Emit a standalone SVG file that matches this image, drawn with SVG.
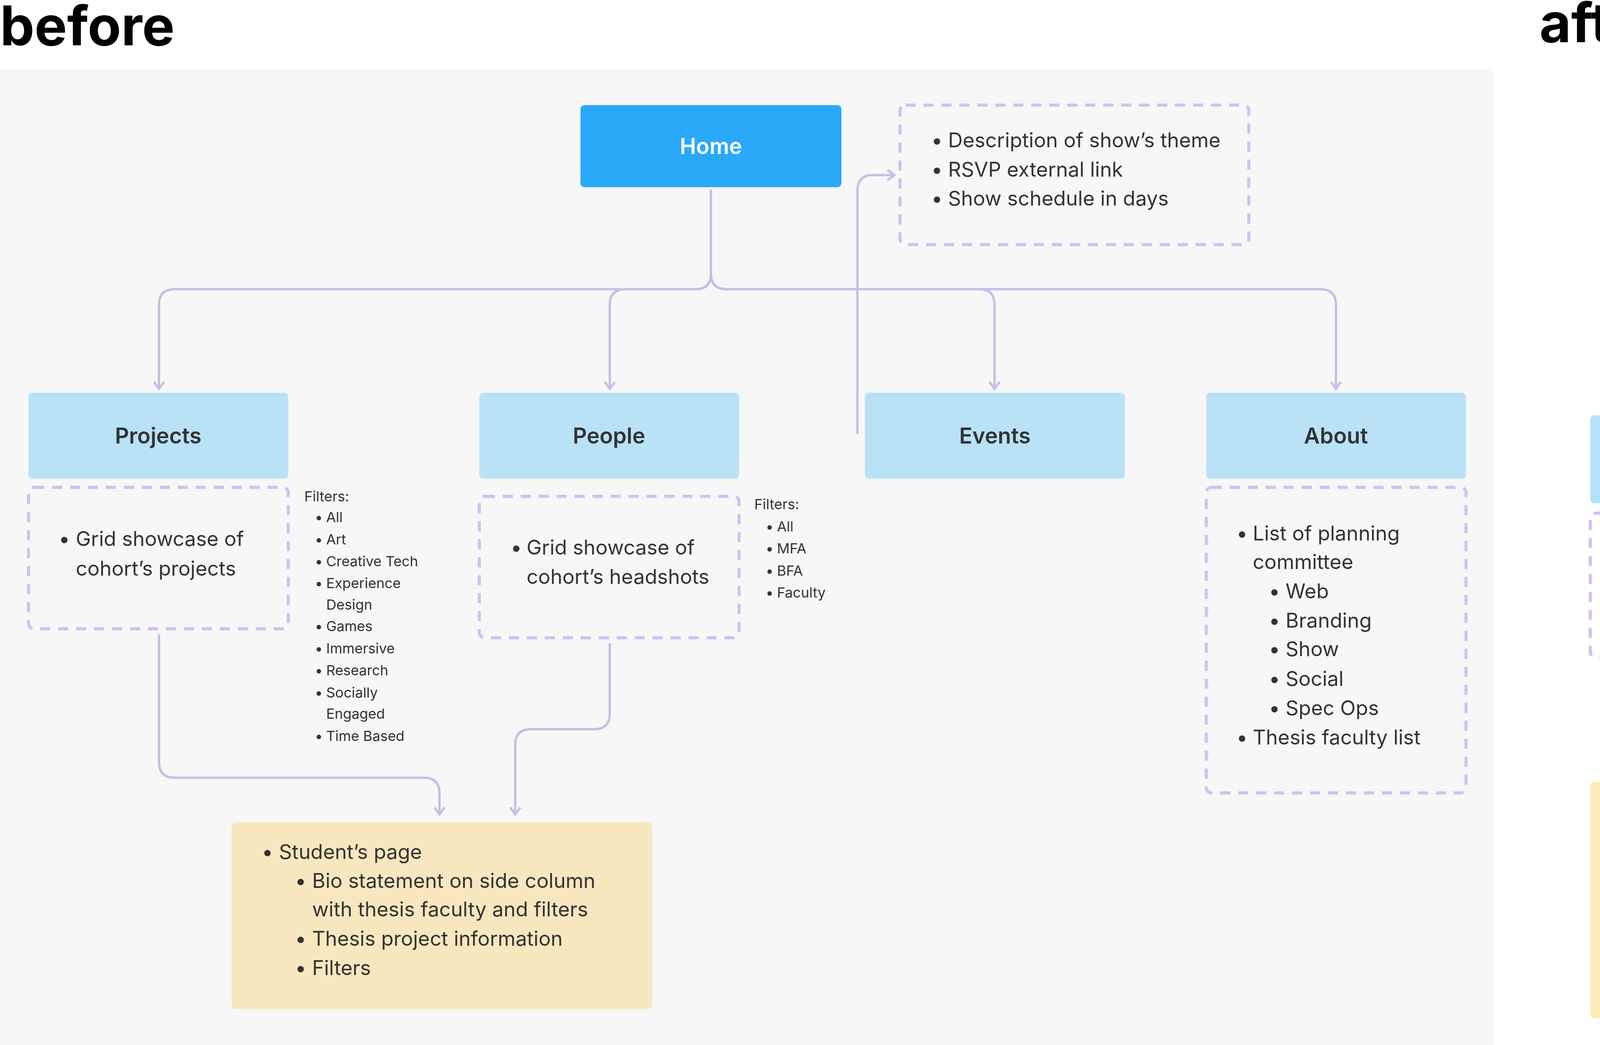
<svg xmlns="http://www.w3.org/2000/svg" width="7198" height="2674" viewBox="0 0 7198 2674">
<style>
.t{font-family:Inter,"Liberation Sans",sans-serif;fill:#333;font-size:52px}
.s{font-family:Inter,"Liberation Sans",sans-serif;fill:#333;font-size:36px}
.h{font-family:Inter,"Liberation Sans",sans-serif;font-size:140px;font-weight:700;fill:#000}
.n{font-family:Inter,"Liberation Sans",sans-serif;font-size:56px;font-weight:600;fill:#333;text-anchor:middle}
.w{fill:#fff}
.d{fill:none;stroke:#cbc3f5;stroke-width:8;stroke-dasharray:26 20}
.c{fill:none;stroke:#c3c0e6;stroke-width:6}
</style>
<defs>
<marker id="a" viewBox="-24 -20 30 40" markerWidth="30" markerHeight="40" markerUnits="userSpaceOnUse" refX="0" refY="0" orient="auto">
<path d="M-18,-13 L0,0 L-18,13" fill="none" stroke="#c3c0e6" stroke-width="6"/>
</marker>
</defs>
<rect x="0" y="177" width="3824" height="2497" fill="#f7f7f7"/>
<text class="h" x="0" y="116">before</text>
<text class="h" x="3941" y="108">after</text>

<g id="connectors">
<path class="c" marker-end="url(#a)" d="M1820,485 V700 Q1820,740 1780,740 H447 Q407,740 407,780 V995"/>
<path class="c" marker-end="url(#a)" d="M1820,485 V700 Q1820,740 1780,740 H1601 Q1561,740 1561,780 V995"/>
<path class="c" marker-end="url(#a)" d="M1820,485 V700 Q1820,740 1860,740 H2506 Q2546,740 2546,780 V995"/>
<path class="c" marker-end="url(#a)" d="M1820,485 V700 Q1820,740 1860,740 H3380 Q3420,740 3420,780 V995"/>
<path class="c" marker-end="url(#a)" d="M2195,1111 V488 Q2195,448 2235,448 H2290"/>
<path class="c" marker-end="url(#a)" d="M407,1623 V1950 Q407,1990 447,1990 H1085 Q1125,1990 1125,2030 V2084"/>
<path class="c" marker-end="url(#a)" d="M1561,1646 V1826 Q1561,1866 1521,1866 H1359 Q1319,1866 1319,1906 V2084"/>
<path class="c" marker-end="url(#a)" d="M5289,530 V752 Q5289,792 5249,792 H4453 Q4413,792 4413,832 V1053"/>
<path class="c" marker-end="url(#a)" d="M5289,530 V752 Q5289,792 5329,792 H5554 Q5594,792 5594,832 V1053"/>
<path class="c" marker-end="url(#a)" d="M5289,530 V752 Q5289,792 5329,792 H6737 Q6777,792 6777,832 V1053"/>
<path class="c" marker-end="url(#a)" d="M4413,1689 V1815 Q4413,1835 4433,1835 Q4450,1835 4450,1855 V1985"/>
<path class="c" marker-end="url(#a)" d="M5594,1715 V1800 Q5594,1849 5640,1849 H5690 Q5735,1849 5735,1895 V1985"/>
</g>

<g id="b-home"><rect x="1486" y="269" width="668" height="210" rx="10" fill="#2aa9f9"/><text class="n w" x="1820" y="394">Home</text></g>
<g id="b-home-notes"><rect class="d" x="2304" y="269" width="893" height="357" rx="14"/>
<text class="t" x="2384" y="377">•</text><text class="t" x="2427" y="377">Description of show’s theme</text>
<text class="t" x="2384" y="452">•</text><text class="t" x="2427" y="452">RSVP external link</text>
<text class="t" x="2384" y="526">•</text><text class="t" x="2427" y="526">Show schedule in days</text></g>
<g id="b-projects"><rect x="73" y="1005" width="665" height="220" rx="10" fill="#b9e2f7"/><text class="n" x="405" y="1135">Projects</text></g>
<g id="b-people"><rect x="1227" y="1005" width="665" height="220" rx="10" fill="#b9e2f7"/><text class="n" x="1559" y="1135">People</text></g>
<g id="b-events"><rect x="2214" y="1005" width="666" height="220" rx="10" fill="#b9e2f7"/><text class="n" x="2547" y="1135">Events</text></g>
<g id="b-about"><rect x="3088" y="1005" width="665" height="220" rx="10" fill="#b9e2f7"/><text class="n" x="3420" y="1135">About</text></g>
<g id="b-projects-notes"><rect class="d" x="73" y="1247" width="665" height="362" rx="14"/>
<text class="t" x="150" y="1397">•</text><text class="t" x="194" y="1397">Grid showcase of</text><text class="t" x="194" y="1473">cohort’s projects</text>
<text class="s" x="779" y="1283">Filters:</text>
<g class="s"><text x="806" y="1336">•</text><text x="835" y="1336">All</text>
<text x="806" y="1393">•</text><text x="835" y="1393">Art</text>
<text x="806" y="1449">•</text><text x="835" y="1449">Creative Tech</text>
<text x="806" y="1505">•</text><text x="835" y="1505">Experience</text><text x="835" y="1560">Design</text>
<text x="806" y="1615">•</text><text x="835" y="1615">Games</text>
<text x="806" y="1672">•</text><text x="835" y="1672">Immersive</text>
<text x="806" y="1728">•</text><text x="835" y="1728">Research</text>
<text x="806" y="1785">•</text><text x="835" y="1785">Socially</text><text x="835" y="1839">Engaged</text>
<text x="806" y="1896">•</text><text x="835" y="1896">Time Based</text></g></g>
<g id="b-people-notes"><rect class="d" x="1227" y="1270" width="665" height="362" rx="14"/>
<text class="t" x="1307" y="1419">•</text><text class="t" x="1348" y="1419">Grid showcase of</text><text class="t" x="1348" y="1494">cohort’s headshots</text>
<g class="s"><text x="1931" y="1303">Filters:</text>
<text x="1960" y="1360">•</text><text x="1989" y="1360">All</text>
<text x="1960" y="1416">•</text><text x="1989" y="1416">MFA</text>
<text x="1960" y="1473">•</text><text x="1989" y="1473">BFA</text>
<text x="1960" y="1529">•</text><text x="1989" y="1529">Faculty</text></g></g>
<g id="b-about-notes"><rect class="d" x="3088" y="1247" width="665" height="782" rx="14"/>
<g class="t"><text x="3165" y="1383">•</text><text x="3207" y="1383">List of planning</text><text x="3207" y="1456">committee</text>
<text x="3248" y="1531">•</text><text x="3291" y="1531">Web</text>
<text x="3248" y="1606">•</text><text x="3291" y="1606">Branding</text>
<text x="3248" y="1679">•</text><text x="3291" y="1679">Show</text>
<text x="3248" y="1755">•</text><text x="3291" y="1755">Social</text>
<text x="3248" y="1830">•</text><text x="3291" y="1830">Spec Ops</text>
<text x="3165" y="1905">•</text><text x="3207" y="1905">Thesis faculty list</text></g></g>
<g id="b-student"><rect x="593" y="2104" width="1077" height="478" rx="10" fill="#f7e7be"/>
<g class="t"><text x="670" y="2198">•</text><text x="714" y="2198">Student’s page</text>
<text x="755" y="2272">•</text><text x="799" y="2272">Bio statement on side column</text><text x="799" y="2345">with thesis faculty and filters</text>
<text x="755" y="2420">•</text><text x="799" y="2420">Thesis project information</text>
<text x="755" y="2495">•</text><text x="799" y="2495">Filters</text></g></g>

<g id="a-home"><rect x="4948" y="311" width="683" height="213" rx="10" fill="#039ffe"/><text class="n w" x="5289" y="437">Home</text></g>
<g id="a-home-notes"><rect class="d" x="5707" y="318" width="1109" height="368" rx="14"/>
<g class="t"><text x="5789" y="431">•</text><text x="5833" y="431">RSVP links for individual days</text>
<text x="5789" y="506">•</text><text x="5833" y="506">Show schedule in days</text>
<text x="5789" y="584">•</text><text x="5833" y="584">Links to previous year’s thesis sites</text></g></g>
<g id="a-projects"><rect x="4071" y="1063" width="682" height="225" rx="10" fill="#b3e3fd"/><text class="n" x="4412" y="1195">Projects</text></g>
<g id="a-people"><rect x="5252" y="1063" width="682" height="225" rx="10" fill="#b3e3fd"/><text class="n" x="5593" y="1195">People</text></g>
<g id="a-about"><rect x="6433" y="1063" width="685" height="225" rx="10" fill="#b3e3fd"/><text class="n" x="6776" y="1195">About</text></g>
<g id="a-projects-notes"><rect class="d" x="4071" y="1313" width="682" height="368" rx="14"/>
<text class="t" x="4147" y="1461">•</text><text class="t" x="4194" y="1461">Grid showcase of</text><text class="t" x="4194" y="1538">cohort’s projects</text>
<g class="s"><text x="4792" y="1346">Filters:</text>
<text x="4821" y="1402">•</text><text x="4851" y="1402">All</text>
<text x="4821" y="1459">•</text><text x="4851" y="1459">Art</text>
<text x="4821" y="1517">•</text><text x="4851" y="1517">Creative Tech</text>
<text x="4821" y="1574">•</text><text x="4851" y="1574">Games</text>
<text x="4821" y="1631">•</text><text x="4851" y="1631">Immersive</text>
<text x="4821" y="1689">•</text><text x="4851" y="1689">Research</text></g></g>
<g id="a-people-notes"><rect class="d" x="5252" y="1336" width="682" height="367" rx="14"/>
<text class="t" x="5332" y="1487">•</text><text class="t" x="5375" y="1487">Grid showcase of</text><text class="t" x="5375" y="1564">cohort’s headshots</text>
<g class="s"><text x="5974" y="1369">Filters:</text>
<text x="6004" y="1426">•</text><text x="6032" y="1426">All</text>
<text x="6004" y="1482">•</text><text x="6032" y="1482">MFA</text>
<text x="6004" y="1540">•</text><text x="6032" y="1540">BFA</text>
<text x="6004" y="1598">•</text><text x="6032" y="1598">Faculty</text></g></g>
<g id="a-about-notes"><rect class="d" x="6433" y="1313" width="685" height="1104" rx="14"/>
<g class="t"><text x="6513" y="1409">•</text><text x="6559" y="1409">Event schedule in</text><text x="6559" y="1487">detail with times</text>
<text x="6513" y="1562">•</text><text x="6559" y="1562">Planning committee</text>
<text x="6600" y="1639">•</text><text x="6643" y="1639">Web</text>
<text x="6600" y="1715">•</text><text x="6643" y="1715">Branding</text>
<text x="6600" y="1790">•</text><text x="6643" y="1790">Exhibition</text>
<text x="6600" y="1867">•</text><text x="6643" y="1867">Promotion</text>
<text x="6600" y="1943">•</text><text x="6643" y="1943">Assets</text>
<text x="6513" y="2018">•</text><text x="6559" y="2018">Thesis faculty list</text>
<text x="6513" y="2095">•</text><text x="6559" y="2095">Special thank you</text><text x="6559" y="2173">to the program</text><text x="6559" y="2248">founder who retired</text><text x="6559" y="2323">this year</text></g></g>
<g id="a-thesis"><rect x="4071" y="2001" width="969" height="604" rx="10" fill="#fee9b8"/>
<g class="t"><text x="4147" y="2117">•</text><text x="4194" y="2117">Student’s thesis project</text>
<text x="4233" y="2192">•</text><text x="4281" y="2192">Thesis faculty</text>
<text x="4233" y="2267">•</text><text x="4281" y="2267">Abstract section</text>
<text x="4233" y="2342">•</text><text x="4281" y="2342">Thesis project information</text>
<text x="4147" y="2420">•</text><text x="4194" y="2420">Summary of personal page</text><text x="4194" y="2495">with link to it</text></g></g>
<g id="a-personal"><rect x="5252" y="2001" width="969" height="604" rx="10" fill="#fee9b8"/>
<g class="t"><text x="5332" y="2081">•</text><text x="5375" y="2081">Student’s personal page</text>
<text x="5419" y="2156">•</text><text x="5462" y="2156">Bigger headshot</text>
<text x="5419" y="2231">•</text><text x="5462" y="2231">Bio statement</text>
<text x="5332" y="2309">•</text><text x="5375" y="2309">Summary of thesis project</text><text x="5375" y="2384">with link to it</text>
<text x="5332" y="2461">•</text><text x="5375" y="2461">Links to other work if exists on</text><text x="5375" y="2537">external site</text></g></g>
</svg>
